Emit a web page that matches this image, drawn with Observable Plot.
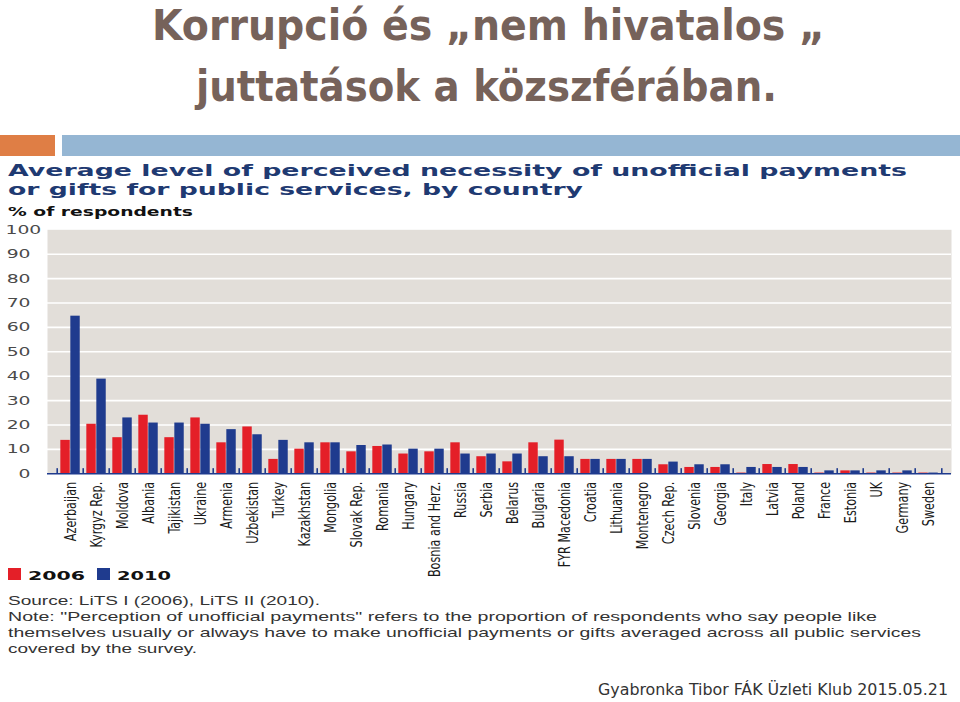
<!DOCTYPE html>
<html><head><meta charset="utf-8">
<script src="https://cdn.jsdelivr.net/npm/d3@7"></script>
<script src="https://cdn.jsdelivr.net/npm/@observablehq/plot@0.6"></script>
<style>
body{margin:0;background:#fff;}
#wrap{width:960px;height:702px;overflow:hidden;position:relative;background:#fff;}
#wrap svg{display:block;}
</style></head><body><div id="wrap"></div>
<script>
const countries = ["Azerbaijan","Kyrgyz Rep.","Moldova","Albania","Tajikistan","Ukraine","Armenia","Uzbekistan","Turkey","Kazakhstan","Mongolia","Slovak Rep.","Romania","Hungary","Bosnia and Herz.","Russia","Serbia","Belarus","Bulgaria","FYR Macedonia","Croatia","Lithuania","Montenegro","Czech Rep.","Slovenia","Georgia","Italy","Latvia","Poland","France","Estonia","UK","Germany","Sweden"];
const v2006 = [13.7,20.3,14.8,24,14.8,22.9,12.7,19.2,5.9,10.1,12.7,9,11.2,8.1,9,12.7,7,4.9,12.7,13.8,5.9,5.9,5.9,3.7,2.6,2.6,0.3,3.8,3.8,0.3,1.2,0.3,0.3,0.3];
const v2010 = [64.6,38.8,22.9,20.8,20.8,20.3,18.1,16,13.7,12.7,12.7,11.6,11.8,10.1,10.1,8.1,8.1,8.1,7,7,5.9,5.9,5.9,4.8,3.7,3.7,2.6,2.6,2.6,1.2,1.2,1.2,1.2,0.3];
const years = ["2006","2010"];
const yearColors = ["#e41f28","#1f3b8e"];
const yTicks = [0,10,20,30,40,50,60,70,80,90,100];

const titleLines = ["Korrupció és „nem hivatalos „","juttatások a közszférában."];
const subtitleLines = ["Average level of perceived necessity of unofficial payments","or gifts for public services, by country"];
const unitLabel = "% of respondents";
const sourceLines = [
  "Source: LiTS I (2006), LiTS II (2010).",
  "Note: \"Perception of unofficial payments\" refers to the proportion of respondents who say people like",
  "themselves usually or always have to make unofficial payments or gifts averaged across all public services",
  "covered by the survey."
];
const footer = "Gyabronka Tibor FÁK Üzleti Klub  2015.05.21";

const wrap = d3.select("#wrap");

function addText(svg, str, x, y, len, o) {
  const t = svg.append("text").attr("x", x).attr("y", y)
    .attr("font-family", o.family).attr("font-size", o.size)
    .attr("font-weight", o.weight || "normal").attr("fill", o.fill);
  if (len) t.attr("textLength", len).attr("lengthAdjust", "spacingAndGlyphs");
  t.text(str);
  return t;
}

// ---------- header ----------
const head = wrap.append("svg").attr("width", 960).attr("height", 222);
const tFont = {family: "'DejaVu Sans Condensed','DejaVu Sans',sans-serif", size: 43, weight: "bold", fill: "#76625a"};
addText(head, titleLines[0], 152, 39.5, 673, tFont);
addText(head, titleLines[1], 196, 101, 581, tFont);
head.append("rect").attr("x", 0).attr("y", 135).attr("width", 55).attr("height", 21).attr("fill", "#df7e45");
head.append("rect").attr("x", 62).attr("y", 135).attr("width", 898).attr("height", 21).attr("fill", "#95b6d3");
const sFont = {family: "'DejaVu Sans',sans-serif", size: 16, weight: "bold", fill: "#1f3a72"};
addText(head, subtitleLines[0], 8, 175.5, 899, sFont);
addText(head, subtitleLines[1], 8, 195, 575, sFont);
addText(head, unitLabel, 8, 216, 185, {family: "'DejaVu Sans',sans-serif", size: 12.5, weight: "bold", fill: "#111"});

// ---------- chart ----------
const data = countries.flatMap((c, i) => [
  {country: c, year: years[0], value: v2006[i]},
  {country: c, year: years[1], value: v2010[i]}
]);
const step = (951 - 47) / countries.length;
const chart = Plot.plot({
  width: 960, height: 345,
  marginTop: 7.3, marginBottom: 93.7, marginLeft: 47, marginRight: 9,
  style: {background: "transparent", overflow: "visible"},
  x: {domain: countries, padding: 0, axis: null},
  y: {domain: [0, 100], axis: null},
  marks: [
    Plot.frame({fill: "#e2ded9", stroke: null}),
    Plot.gridY(yTicks.slice(1, -1), {stroke: "#ffffff", strokeOpacity: 1, strokeWidth: 1.6}),
    Plot.barY(data.filter(d => d.year === years[0]), {x: "country", y: "value", fill: yearColors[0], insetLeft: step * 0.125, insetRight: step - step * 0.125 - 10}),
    Plot.barY(data.filter(d => d.year === years[1]), {x: "country", y: "value", fill: yearColors[1], insetLeft: step * 0.125 + 10, insetRight: step - step * 0.125 - 20}),
    Plot.ruleY([0], {stroke: "#1f3b8e", strokeWidth: 1.5}),
    Plot.ruleX(countries, {x: d => d, y1: 0, y2: 2.1, dx: -step / 2, stroke: "#1f3b8e", strokeWidth: 1.6}),
    Plot.ruleX([countries[countries.length - 1]], {x: d => d, y1: 0, y2: 2.1, dx: step / 2, stroke: "#1f3b8e", strokeWidth: 1.6}),
    Plot.axisX({tickRotate: -90, tickSize: 0, tickPadding: 8, label: null, fontSize: 12.5, fontFamily: "'Liberation Sans Narrow','DejaVu Sans Condensed',sans-serif", fill: "#1a1a1a"}),
    Plot.axisY(yTicks.slice(0, -1), {tickSize: 0, tickPadding: 17, textAnchor: "end", label: null, fontSize: 12.5, fontFamily: "'DejaVu Sans',sans-serif", fill: "#4a4a4a"}),
    Plot.axisY([yTicks[yTicks.length - 1]], {tickSize: 0, tickPadding: 42, textAnchor: "start", label: null, fontSize: 12.5, fontFamily: "'DejaVu Sans',sans-serif", fill: "#4a4a4a"})
  ]
});
wrap.node().appendChild(chart);
d3.select(chart).selectAll('g[aria-label="y-axis tick label"] text').each(function() {
  const tr = this.getAttribute("transform") || "";
  this.setAttribute("transform", tr + " scale(1.5,1)");
});
d3.select(chart).selectAll('g[aria-label="x-axis tick label"] text').each(function() {
  const tr = this.getAttribute("transform") || "";
  this.setAttribute("transform", tr + " scale(1,1.3)");
});

// ---------- footer ----------
const foot = wrap.append("svg").attr("width", 960).attr("height", 135);
const lg = [[8, 28, 57], [97, 117, 54]];
years.forEach((yr, i) => {
  foot.append("rect").attr("x", lg[i][0]).attr("y", 1).attr("width", 13).attr("height", 12).attr("fill", yearColors[i]);
  addText(foot, yr, lg[i][1], 12.5, lg[i][2], {family: "'DejaVu Sans',sans-serif", size: 13, weight: "bold", fill: "#111"});
});
const nFont = {family: "'Liberation Sans',Arial,sans-serif", size: 13, fill: "#333"};
const nLens = [312, 869, 913, 189];
const nY = [38, 54, 70, 86];
sourceLines.forEach((s, i) => addText(foot, s, 8, nY[i], nLens[i], nFont));
addText(foot, footer, 598, 128, 350, {family: "'DejaVu Sans Condensed','DejaVu Sans',sans-serif", size: 16, fill: "#333"});
</script>
</body></html>
